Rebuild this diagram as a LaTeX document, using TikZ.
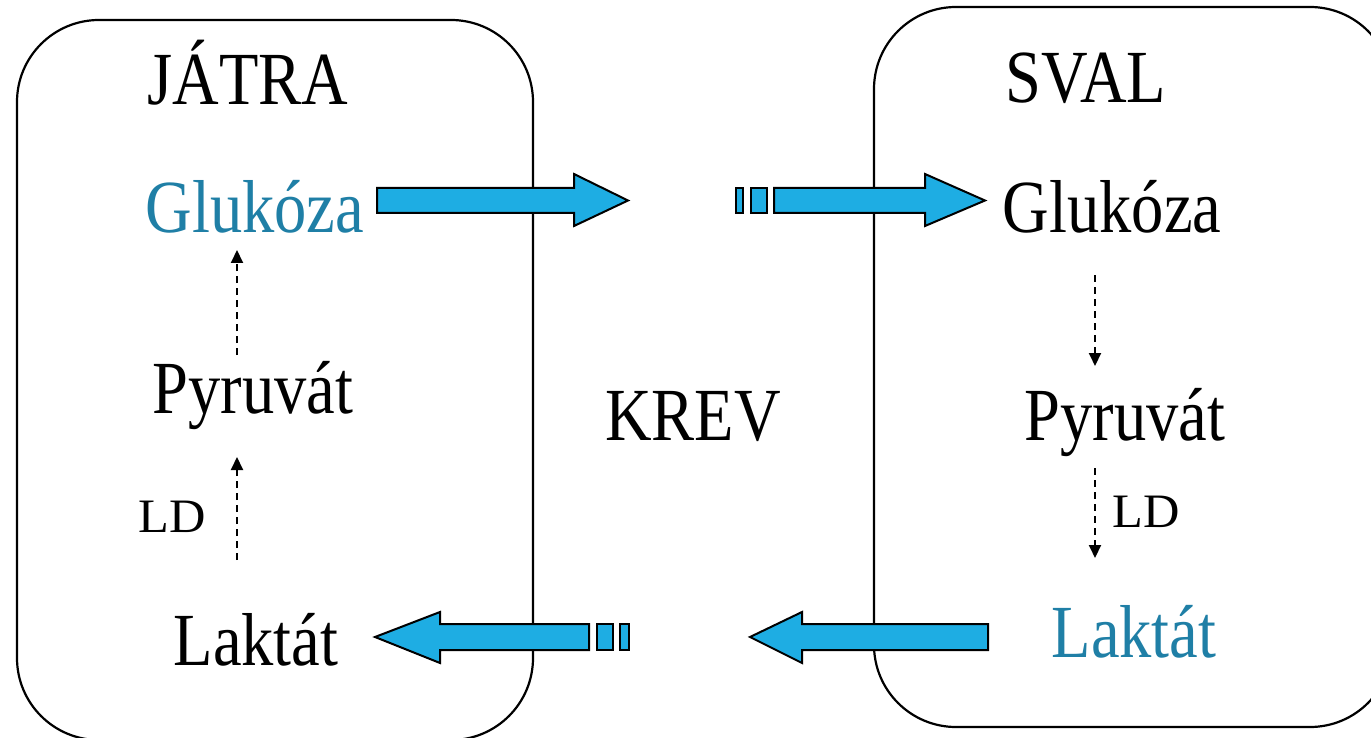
\documentclass[tikz,border=0pt]{standalone}
\usepackage{fontspec}
\setmainfont{Liberation Serif}
\usetikzlibrary{arrows.meta}
\definecolor{arrowblue}{RGB}{30,173,227}
\definecolor{textblue}{RGB}{31,127,166}
\tikzset{
  big/.style={font=\fontsize{75}{88}\selectfont, anchor=base, inner sep=0pt, xscale=0.86},
  small/.style={font=\fontsize{48}{56}\selectfont, anchor=base, inner sep=0pt, xscale=1.05},
  organ/.style={draw=black, line width=2.2pt, rounded corners=82pt},
  blockarrow/.style={draw=black, line width=2pt, fill=arrowblue, line join=miter},
  flow/.style={dashed, dash pattern=on 7pt off 5pt, line width=2pt, -{Triangle[length=13pt,width=12pt]}}
}
\begin{document}
\begin{tikzpicture}[x=1pt,y=-1pt]
\useasboundingbox (0,0) rectangle (1371,738);
\fill[white] (0,0) rectangle (1371,738);
\begin{scope}
\clip (0,0) rectangle (1371,738);
\draw[organ] (17,20) rectangle (533,740);
\draw[organ] (874,7) rectangle (1392,727);
\end{scope}

% block arrows
\draw[blockarrow] (377,188) -- (574,188) -- (574,174) -- (628,200.5) -- (574,226) -- (574,213) -- (377,213) -- cycle;
\draw[blockarrow] (736,188) rectangle (743,213);
\draw[blockarrow] (751,188) rectangle (767,213);
\draw[blockarrow] (774,188) -- (925,188) -- (925,174) -- (985,200.5) -- (925,226) -- (925,213) -- (774,213) -- cycle;

\draw[blockarrow] (589,624) -- (440,624) -- (440,612) -- (375,637) -- (440,663) -- (440,650) -- (589,650) -- cycle;
\draw[blockarrow] (597,624) rectangle (613,650);
\draw[blockarrow] (620,624) rectangle (629,650);
\draw[blockarrow] (988,624) -- (802,624) -- (802,612) -- (750,637) -- (802,663) -- (802,650) -- (988,650) -- cycle;

% texts
\node[big] (jatra) at (248,105) {JÁTRA};
\node[big] (sval) at (1086,103) {SVAL};
\node[big, text=textblue] (glukL) at (255,233) {Glukóza};
\node[big] (glukR) at (1112,233) {Glukóza};
\node[big] (pyrL) at (253,413) {Pyruvát};
\node[big] (pyrR) at (1125,440) {Pyruvát};
\node[big] (krev) at (693,440) {KREV};
\node[small] (ldL) at (172,532) {LD};
\node[small] (ldR) at (1146,527) {LD};
\node[big] (lakL) at (256,665) {Laktát};
\node[big, text=textblue] (lakR) at (1134,657) {Laktát};

% dashed flow arrows
\coordinate (a1s) at (237,355); \coordinate (a1e) at (237,250);
\coordinate (a2s) at (237,560); \coordinate (a2e) at (237,457);
\coordinate (b1s) at (1095,275); \coordinate (b1e) at (1095,366);
\coordinate (b2s) at (1095,468); \coordinate (b2e) at (1095,558);
\draw[flow] (a1s) -- (a1e);
\draw[flow] (a2s) -- (a2e);
\draw[flow] (b1s) -- (b1e);
\draw[flow] (b2s) -- (b2e);
\end{tikzpicture}
\end{document}
